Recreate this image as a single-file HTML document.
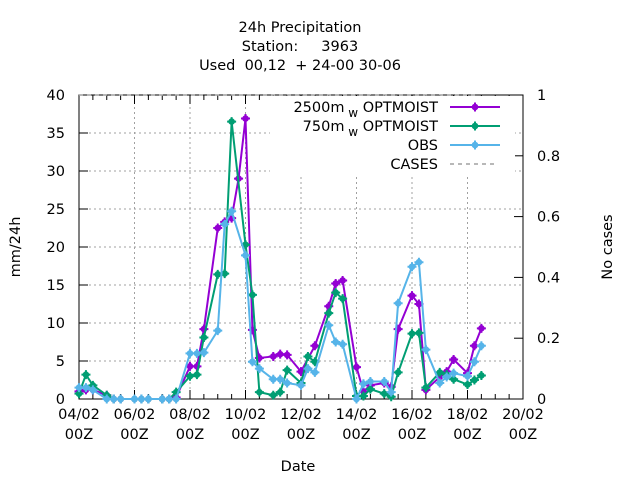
<!DOCTYPE html>
<html><head><meta charset="utf-8"><style>
html,body{margin:0;padding:0;background:#fff;}
svg{display:block;font-family:"DejaVu Sans","Liberation Sans",sans-serif;}
</style></head><body>
<svg id="chart" width="640" height="480" viewBox="0 0 640 480">
<rect width="640" height="480" fill="#fff"/>
<g font-size="14.5" text-anchor="middle" fill="#000">
<text x="300" y="32">24h Precipitation</text>
<text x="300" y="51" xml:space="preserve">Station:     3963</text>
<text x="300" y="70" xml:space="preserve">Used  00,12  + 24-00 30-06</text>
</g>
<g id="grid"></g>
<g id="axes"></g>
<g id="series"></g>
<g id="legend"></g>
<text x="20" y="247" transform="rotate(-90 20 247)" font-size="14.5" text-anchor="middle">mm/24h</text>
<text x="612" y="247" transform="rotate(-90 612 247)" font-size="14.5" text-anchor="middle">No cases</text>
<text x="298" y="471" font-size="14.5" text-anchor="middle">Date</text>
</svg>
<script>
const xTickLabels = ["04/02","06/02","08/02","10/02","12/02","14/02","16/02","18/02","20/02"];
const yTicks = [0,5,10,15,20,25,30,35,40];
const y2Ticks = [0,0.2,0.4,0.6,0.8,1];
const y2TickLabels = ["0","0.2","0.4","0.6","0.8","1"];
// times in quarter-days since 04/02 00Z
const t2500 = [0,1,2,4,5,6,8,9,10,12,13,14,16,17,18,20,21,22,23,24,25,26,28,29,30,32,34,36,37,38,40,41,42,44,45,46,48,49,50,52,53,54,56,57,58];
const v2500 = [1.0,1.2,1.2,0.5,0,0,0,0,0,0,0,0.2,4.3,4.3,9.2,22.5,23.3,23.8,29,36.9,9.1,5.4,5.6,5.9,5.8,3.6,7.0,12.2,15.2,15.6,4.2,1.0,1.8,2.1,1.6,9.2,13.6,12.5,1.2,2.9,3.6,5.2,3.4,7.0,9.3];
const t750 = [0,1,2,4,5,6,8,9,10,12,13,14,16,17,18,20,21,22,24,25,26,28,29,30,32,33,34,36,37,38,40,41,42,44,45,46,48,49,50,52,53,54,56,57,58];
const v750 = [0.7,3.2,1.8,0.5,0,0,0,0,0,0,0,0.9,3.0,3.2,8.1,16.4,16.5,36.5,20.3,13.7,0.9,0.5,0.9,3.8,2.1,5.6,4.9,11.3,14.0,13.2,0.4,0.4,1.3,0.7,0.3,3.5,8.6,8.7,1.5,3.5,3.2,2.6,1.9,2.5,3.1];
const tObs = [0,1,2,4,5,6,8,9,10,12,13,14,16,17,18,20,21,22,24,25,26,28,29,30,32,33,34,36,37,38,40,41,42,44,45,46,48,49,50,52,53,54,56,57,58];
const vObs = [1.5,1.5,1.2,0,0,0,0,0,0,0,0,0,6.0,6.0,6.1,9.0,23.0,24.7,18.9,4.9,4.0,2.6,2.6,2.1,1.8,4.0,3.5,9.7,7.5,7.2,0,2.0,2.3,2.3,0.9,12.6,17.4,18.0,6.5,2.1,2.9,3.4,3.0,4.9,7.0];
const casesT = [0,57.5];
const casesV = [1,1];

const NS="http://www.w3.org/2000/svg";
const X0=79,X1=523,Y0=399,Y1=95;
const xs=q=>X0+(q/64)*(X1-X0);
const ys=v=>Y0-(v/40)*(Y0-Y1);
const ys2=v=>Y0-v*(Y0-Y1);
function mk(tag,attrs,parent){const e=document.createElementNS(NS,tag);for(const k in attrs)e.setAttribute(k,attrs[k]);parent.appendChild(e);return e;}
const grid=document.getElementById('grid'),axes=document.getElementById('axes'),series=document.getElementById('series'),legend=document.getElementById('legend');

xTickLabels.forEach((lab,i)=>{
  const x=xs(i*8);
  if(i>0&&i<xTickLabels.length-1){const g=mk('line',{x1:x,y1:Y0,x2:x,y2:Y1,stroke:'#a0a0a0','stroke-dasharray':'2,3','stroke-width':1},grid);
  
  }
  const t=mk('text',{x:x,y:419,'font-size':14.5,'text-anchor':'middle'},axes);t.textContent=lab;
  
  
  const t2=mk('text',{x:x,y:439,'font-size':14.5,'text-anchor':'middle'},axes);t2.textContent='00Z';
  
  
});
for(let q=0;q<=64;q+=2){const x=xs(q);const len=(q%8===0)?9:5;
  mk('line',{x1:x,y1:Y0,x2:x,y2:Y0-len,stroke:'#000'},axes);
  mk('line',{x1:x,y1:Y1,x2:x,y2:Y1+len,stroke:'#000'},axes);}
yTicks.forEach(v=>{const y=ys(v);
  if(v>0&&v<40){const g=mk('line',{x1:X0,y1:y,x2:X1,y2:y,stroke:'#a0a0a0','stroke-dasharray':'2,3'},grid);
  
  }
  mk('line',{x1:X0,y1:y,x2:X0+9,y2:y,stroke:'#000'},axes);
  const t=mk('text',{x:X0-14,y:y+5,'font-size':14.5,'text-anchor':'end'},axes);t.textContent=v;
  
  
});
y2Ticks.forEach((v,i)=>{const y=ys2(v);
  mk('line',{x1:X1,y1:y,x2:X1-9,y2:y,stroke:'#000'},axes);
  const t=mk('text',{x:X1+14,y:y+5,'font-size':14.5,'text-anchor':'start'},axes);t.textContent=y2TickLabels[i];
  
  
});
const fr=mk('rect',{x:X0,y:Y1,width:X1-X0,height:Y0-Y1,fill:'none',stroke:'#000','stroke-width':1},axes);



const cl=mk('polyline',{points:casesT.map((q,i)=>xs(q)+','+ys2(casesV[i])).join(' '),fill:'none',stroke:'#a0a0a0','stroke-width':1.5,'stroke-dasharray':'4,4'},series);



function star(g,x,y,color){mk('circle',{cx:x,cy:y,r:3.3,fill:color},g);
  mk('path',{d:`M${x-4.5},${y}H${x+4.5}M${x},${y-4.5}V${y+4.5}`,stroke:color,'stroke-width':2},g);}
function drawSeries(T,V,color,name){
  const g=mk('g',{},series);
  
  
  mk('polyline',{points:T.map((q,i)=>xs(q)+','+ys(V[i])).join(' '),fill:'none',stroke:color,'stroke-width':2},g);
  T.forEach((q,i)=>star(g,xs(q),ys(V[i]),color));
}
drawSeries(t2500,v2500,'#9400d3','series-2500m-optmoist');
drawSeries(t750,v750,'#009e73','series-750m-optmoist');
drawSeries(tObs,vObs,'#56b4e9','series-obs');

const lb=mk('rect',{x:270,y:96,width:245,height:80,fill:'#fff'},legend);


const items=[['2500m','#9400d3',true],['750m','#009e73',true],['OBS','#56b4e9',false],['CASES','#a0a0a0',false]];
items.forEach((it,i)=>{const y=107+i*19;
  const g=mk('g',{},legend);
  
  
  const t=mk('text',{x:438,y:y+5,'font-size':14.5,'text-anchor':'end'},g);
  if(it[2]){t.innerHTML=it[0]+'<tspan dy="5" font-size="12"> w</tspan><tspan dy="-5"> OPTMOIST</tspan>';}
  else t.textContent=it[0];
  if(i<3){mk('line',{x1:450,y1:y,x2:500,y2:y,stroke:it[1],'stroke-width':2},g);star(g,475,y,it[1]);}
  else mk('line',{x1:450,y1:y,x2:496,y2:y,stroke:it[1],'stroke-width':1.5,'stroke-dasharray':'4,4'},g);
});
</script>
</body></html>
